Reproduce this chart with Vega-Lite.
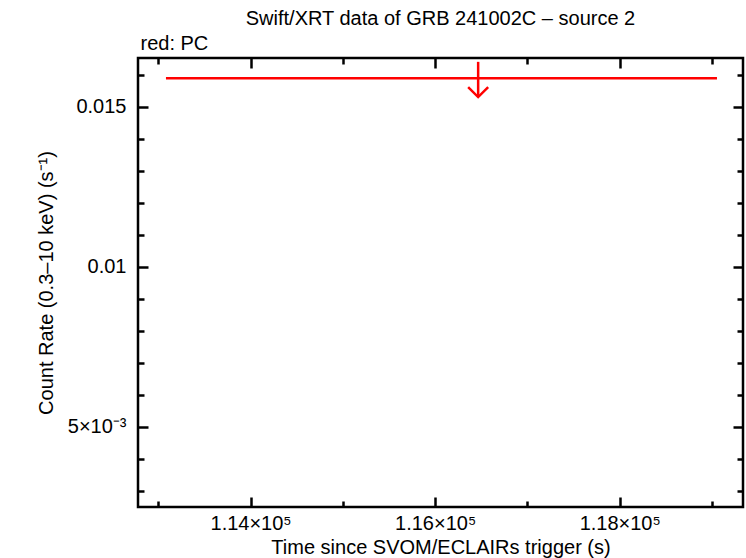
{
  "$schema": "https://vega.github.io/schema/vega-lite/v6.json",
  "width": 605,
  "height": 449,
  "autosize": {"type": "none"},
  "padding": {"left": 138, "top": 58, "right": 3, "bottom": 51},
  "background": "white",
  "title": {
    "text": "Swift/XRT data of GRB 241002C – source 2",
    "anchor": "middle",
    "font": "Liberation Sans",
    "fontSize": 20,
    "fontWeight": "normal",
    "color": "black",
    "offset": 4
  },
  "config": {
    "view": {"stroke": "black", "strokeWidth": 2.5},
    "axis": {
      "domain": false,
      "grid": false,
      "tickColor": "black",
      "tickWidth": 2.5,
      "labelFont": "Liberation Sans",
      "labelFontSize": 20,
      "labelColor": "black",
      "titleFont": "Liberation Sans",
      "titleFontSize": 20,
      "titleFontWeight": "normal",
      "titleColor": "black"
    }
  },
  "data": {
    "values": [
      {"time": 116466, "time_lo": 113083, "time_hi": 119054, "rate": 0.0159, "arrow_top": 0.01641, "arrow_tip": 0.01531}
    ]
  },
  "resolve": {"axis": {"x": "independent", "y": "independent"}},
  "layer": [
    {
      "mark": {"type": "rule", "color": "#ff0000", "strokeWidth": 2.5},
      "encoding": {
        "x": {
          "field": "time_lo",
          "type": "quantitative",
          "scale": {"domain": [112780, 119336], "nice": false, "zero": false},
          "axis": {
            "orient": "bottom",
            "values": [113000, 114000, 115000, 116000, 117000, 118000, 119000],
            "tickSize": {"condition": {"test": "datum.value % 2000 === 0", "value": -10}, "value": -6},
            "labelPadding": 16,
            "labelExpr": "datum.value % 2000 === 0 ? format(datum.value / 100000, '.2f') + '×10⁵' : ''",
            "title": "Time since SVOM/ECLAIRs trigger (s)",
            "titleY": 40,
            "titleBaseline": "middle"
          }
        },
        "x2": {"field": "time_hi"},
        "y": {
          "field": "rate",
          "type": "quantitative",
          "scale": {"domain": [0.0025, 0.01653], "nice": false, "zero": false},
          "axis": {
            "orient": "left",
            "values": [0.003, 0.004, 0.005, 0.006, 0.007, 0.008, 0.009, 0.01, 0.011, 0.012, 0.013, 0.014, 0.015, 0.016],
            "tickSize": {"condition": {"test": "round(datum.value * 1000) % 5 === 0", "value": -10}, "value": -6},
            "labelPadding": 22,
            "labelExpr": "round(datum.value * 1000) === 5 ? '5×10⁻³' : round(datum.value * 1000) === 10 ? '0.01' : round(datum.value * 1000) === 15 ? '0.015' : ''",
            "title": "Count Rate (0.3–10 keV) (s⁻¹)",
            "titleX": -92,
            "titleBaseline": "middle"
          }
        }
      }
    },
    {
      "mark": {"type": "rule", "color": "#ff0000", "strokeWidth": 2.5},
      "encoding": {
        "x": {
          "field": "time",
          "type": "quantitative",
          "scale": {"domain": [112780, 119336], "nice": false, "zero": false},
          "axis": {
            "orient": "top",
            "values": [113000, 114000, 115000, 116000, 117000, 118000, 119000],
            "tickSize": {"condition": {"test": "datum.value % 2000 === 0", "value": -10}, "value": -6},
            "labels": false,
            "title": "red: PC",
            "titleAnchor": "start",
            "titleAlign": "left",
            "titleX": 2,
            "titleY": -9,
            "titleBaseline": "alphabetic"
          }
        },
        "y": {
          "field": "arrow_top",
          "type": "quantitative",
          "scale": {"domain": [0.0025, 0.01653], "nice": false, "zero": false},
          "axis": {
            "orient": "right",
            "values": [0.003, 0.004, 0.005, 0.006, 0.007, 0.008, 0.009, 0.01, 0.011, 0.012, 0.013, 0.014, 0.015, 0.016],
            "tickSize": {"condition": {"test": "round(datum.value * 1000) % 5 === 0", "value": -10}, "value": -6},
            "labels": false,
            "title": null
          }
        },
        "y2": {"field": "arrow_tip"}
      }
    },
    {
      "mark": {"type": "point", "shape": "M-1,-1L0,0L1,-1", "size": 400, "filled": false, "color": "#ff0000", "strokeWidth": 2.5, "opacity": 1},
      "encoding": {
        "x": {"field": "time", "type": "quantitative", "axis": null},
        "y": {"field": "arrow_tip", "type": "quantitative", "axis": null}
      }
    }
  ]
}
